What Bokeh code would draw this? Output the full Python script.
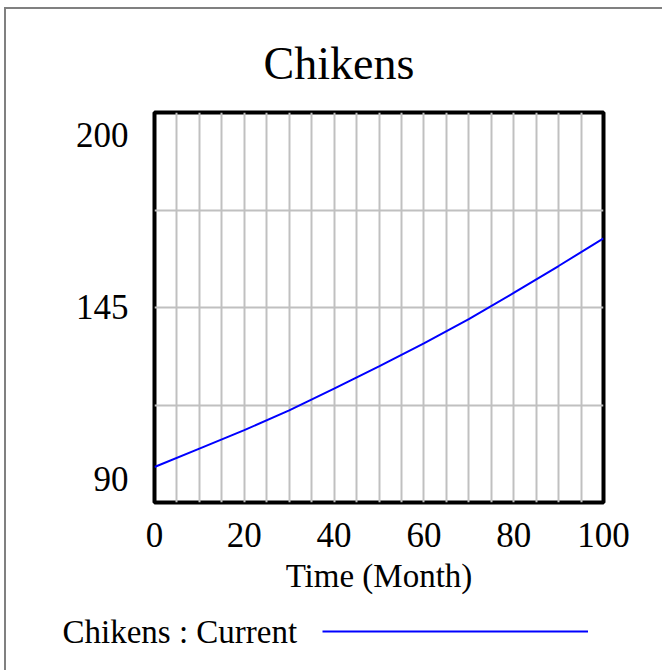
from bokeh.plotting import figure
from bokeh.layouts import column
from bokeh.models import Range1d, FixedTicker, SingleIntervalTicker, Legend, LegendItem, Label
from bokeh.embed import file_html
from bokeh.resources import INLINE

# ---- data ----
months = [0, 10, 20, 30, 40, 50, 60, 70, 80, 90, 100]
chickens = [100.0, 105.2, 110.4, 116.0, 122.1, 128.4, 134.9, 141.7, 149.1, 156.7, 164.5]
x_ticks = [0, 20, 40, 60, 80, 100]
y_ticks = [90, 145, 200]
y_grid = [90, 117.5, 145, 172.5, 200]
x_grid_step = 5
title_text = "Chikens"
x_label = "Time (Month)"
series_label = "Chikens : Current"

FONT = "Liberation Serif"
LINE_COLOR = "#0000ff"

# ---------------- main chart ----------------
p = figure(width=656, height=603,
           x_range=Range1d(x_ticks[0], x_ticks[-1]),
           y_range=Range1d(y_ticks[0], y_ticks[-1]),
           output_backend="svg", toolbar_location=None,
           min_border_left=148, min_border_right=59,
           min_border_top=103, min_border_bottom=110)
p.frame_align = False

p.background_fill_color = "white"
p.border_fill_color = "white"
p.outline_line_color = "black"
p.outline_line_width = 4
p.outline_line_alpha = 1.0

p.title.text = title_text
p.title.align = "left"
p.title.offset = 109
p.title.standoff = 48
p.title.text_font = FONT
p.title.text_font_size = "46px"
p.title.text_font_style = "normal"
p.title.text_color = "black"

p.xgrid.ticker = SingleIntervalTicker(interval=x_grid_step)
p.ygrid.ticker = FixedTicker(ticks=y_grid)
p.grid.grid_line_color = "#c0c0c0"
p.grid.grid_line_width = 2
p.grid.grid_line_alpha = 1.0

r = p.line(months, chickens, line_color=LINE_COLOR, line_width=2)

xa = p.xaxis[0]
xa.ticker = FixedTicker(ticks=x_ticks)
xa.axis_line_color = None
xa.major_tick_line_color = None
xa.minor_tick_line_color = None
xa.major_tick_out = 0
xa.major_tick_in = 0
xa.major_label_text_font = FONT
xa.major_label_text_font_size = "35px"
xa.major_label_text_color = "black"
xa.major_label_standoff = 20
xa.axis_label = x_label
xa.axis_label_text_font = FONT
xa.axis_label_text_font_size = "33px"
xa.axis_label_text_font_style = "normal"
xa.axis_label_text_color = "black"
xa.axis_label_standoff = 8

# y axis: end labels pulled inside the range (Vensim style)
ya = p.yaxis[0]
ya.ticker = FixedTicker(ticks=y_ticks)
ya.major_label_overrides = {y_ticks[0]: f"{y_ticks[0]}\n", y_ticks[-1]: f"\n{y_ticks[-1]}"}
ya.axis_line_color = None
ya.major_tick_line_color = None
ya.minor_tick_line_color = None
ya.major_tick_out = 0
ya.major_tick_in = 0
ya.major_label_text_font = FONT
ya.major_label_text_font_size = "35px"
ya.major_label_text_color = "black"
ya.major_label_standoff = 26

# ---------------- legend strip (pixel coordinates) ----------------
LW, LH = 656, 58
p2 = figure(width=LW, height=LH, x_range=Range1d(0, LW), y_range=Range1d(LH, 0),
            x_axis_type=None, y_axis_type=None,
            output_backend="svg", toolbar_location=None,
            min_border_left=0, min_border_right=0, min_border_top=0, min_border_bottom=0)
p2.title = None
p2.frame_align = False
p2.outline_line_color = None
p2.grid.visible = False
p2.background_fill_color = "white"
p2.border_fill_color = "white"

r2 = p2.line(months, chickens, line_color=LINE_COLOR, line_width=2)
r2.visible = False  # only feeds the legend sample

p2.add_layout(Label(x=56, y=19, text=series_label, text_align="left",
                    text_baseline="middle", text_font=FONT,
                    text_font_size="33px", text_color="black"))
legend = Legend(items=[LegendItem(label=" ", renderers=[r2])],
                location=(316, 29), orientation="horizontal",
                glyph_width=266, glyph_height=20, label_height=20, label_width=1,
                padding=0, margin=0, spacing=0, label_standoff=0,
                label_text_font_size="1px",
                border_line_color=None, background_fill_alpha=0)
p2.add_layout(legend)

layout = column(p, p2, spacing=0)
layout.styles = {"margin-left": "4px", "margin-top": "7px",
                 "border-left": "2px solid #808080", "border-top": "2px solid #808080"}

open("out.html", "w").write(file_html(layout, INLINE))
